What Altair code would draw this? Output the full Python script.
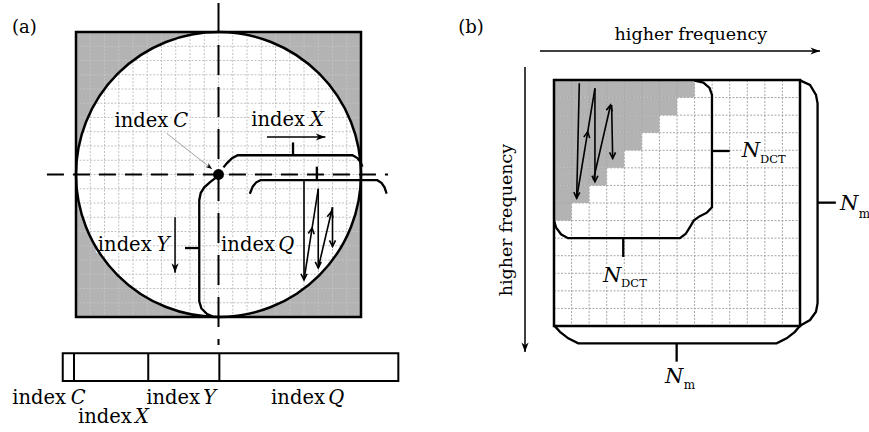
import math
import altair as alt
import pandas as pd

# ================= DATA =================
# Panel (a): coordinates in cells of the 20 x 20 sampling grid (origin = top-left of square, y downwards)
A_N = 20
A_CENTER = [10.0, 10.0]
A_DASH_H = [[-2.04, 10.0], [21.9, 10.0]]
A_DASH_V = [[10.0, -2.04], [10.0, 21.96]]
A_BRACKET_X = [[10.35, 9.5], [10.6, 9.2], [10.95, 8.85], [11.35, 8.65], [19.4, 8.65],
               [19.75, 8.85], [19.95, 9.1], [20.1, 9.45]]
A_BRACKET_Y = [[9.85, 10.2], [9.45, 10.5], [9.0, 10.9], [8.75, 11.3], [8.65, 11.8],
               [8.65, 18.9], [8.8, 19.4], [9.2, 19.8], [9.6, 19.97]]
A_BRACKET_Q = [[12.2, 11.35], [12.4, 10.85], [12.65, 10.55], [12.95, 10.4], [21.15, 10.4],
               [21.45, 10.6], [21.65, 10.9], [21.8, 11.35]]
A_TICKS = [[15.23, 8.65, 15.23, 7.75], [7.65, 15.16, 8.65, 15.16], [16.9, 10.4, 16.9, 9.45]]
A_ARROWS = [[13.4, 7.37, 17.5, 7.37], [6.95, 13.0, 6.95, 16.9]]
# zig-zag scan: x1, y1, x2, y2, position of the head along the segment
A_ZIGZAG = [[16.0, 10.4, 16.0, 17.4, 1.0], [16.0, 17.4, 17.0, 11.0, 0.57],
            [17.0, 11.0, 17.0, 16.55, 1.0], [17.0, 16.55, 18.0, 12.3, 0.93],
            [18.0, 12.3, 18.0, 15.05, 1.0]]
A_LEADER = [6.36, 7.11, 9.55, 9.62]
A_BAR = [-0.93, 22.55, 22.62, 24.49]
A_BAR_DIVIDERS = [-0.14, 5.07, 10.06]
# label: italic letter, right edge of "index", left edge of letter, baseline
A_LABELS = [["C", 6.48, 6.83, 6.65], ["X", 16.07, 16.42, 6.6], ["Y", 5.31, 5.66, 15.35],
            ["Q", 13.96, 14.2, 15.35]]
A_BAR_LABELS = [["C", -0.70, -0.37, 26.1], ["X", 3.91, 4.14, 27.45], ["Y", 8.70, 8.93, 26.1],
                ["Q", 17.47, 17.71, 26.1]]
A_TAG = ["(a)", -4.49, 0.09]

# Panel (b): coordinates in cells of the 14 x 14 coefficient grid
B_N = 14
B_STAIR = [8, 7, 6, 5, 4, 3, 2, 1]   # gray cells per row
B_INNER = [[0.0, 8.0], [0.12, 8.4], [0.4, 8.78], [0.8, 9.0], [7.17, 9.0], [7.5, 8.75],
           [7.75, 8.35], [7.95, 8.0], [8.3, 7.75], [8.7, 7.55], [8.99, 7.25], [8.99, 0.85],
           [8.85, 0.45], [8.5, 0.15], [8.0, 0.03]]
B_OUTER_R = [[14.0, 0.02], [14.57, 0.28], [14.91, 0.85], [15.0, 1.33], [15.0, 12.7],
             [14.91, 13.19], [14.57, 13.66], [14.0, 13.98]]
B_OUTER_B = [[0.02, 13.98], [0.34, 14.33], [0.81, 14.7], [1.38, 14.99], [12.67, 14.99],
             [13.24, 14.7], [13.71, 14.33], [14.0, 13.98]]
B_TICKS = [[3.94, 9.0, 3.94, 10.07], [8.99, 4.04, 10.0, 4.04], [15.0, 6.98, 16.04, 6.98],
           [6.98, 15.0, 6.98, 16.03]]
B_ARROWS = [[-0.8, -1.65, 15.14, -1.65], [-1.65, -0.74, -1.65, 15.48]]
B_ZIGZAG = [[1.44, 0.19, 1.29, 6.73, 1.0], [1.29, 6.73, 2.33, 0.47, 0.605],
            [2.33, 0.47, 2.33, 5.79, 1.0], [2.24, 5.69, 3.22, 1.42, 1.0],
            [3.28, 1.42, 3.34, 4.46, 1.0]]
# N labels: left of N, baseline of N, subscript, left of subscript, baseline of subscript
B_NDCT_LABELS = [[2.79, 11.48, "DCT", 3.82, 11.78], [10.68, 4.37, "DCT", 11.72, 4.74]]
B_NM_LABELS = [[16.28, 7.4, "m", 17.35, 7.85], [6.32, 17.26, "m", 7.38, 17.58]]
B_TAG = ["(b)", -5.45, -2.66]
B_AXIS_TEXT = "higher frequency"
B_TOP_TEXT = [7.79, -2.28]
B_LEFT_TEXT = [-2.39, 7.97]

# ================= STYLE / SCALES =================
FONT = "DejaVu Serif"
GRAY = "#b3b3b3"
A_PX = [76, 361, 32, 317]
B_PX = [554, 800, 80, 326]


def sc(dom, rng):
    return alt.Scale(domain=dom, range=rng, zero=False, nice=False)


AX, AY = sc([0, A_N], A_PX[:2]), sc([0, A_N], A_PX[2:])
BX, BY = sc([0, B_N], B_PX[:2]), sc([0, B_N], B_PX[2:])

FILLED_HEAD = "M0,0L-2.4,-0.9L-1.7,0L-2.4,0.9Z"
OPEN_HEAD = "M-2,-1L0,0L-2,1"


def xy(sx, sy, xf="x", yf="y"):
    return dict(x=alt.X(f"{xf}:Q", scale=sx, axis=None), y=alt.Y(f"{yf}:Q", scale=sy, axis=None))


def polylines(paths, sx, sy, **mk):
    rows = []
    for i, pts in enumerate(paths):
        for j, (x, y) in enumerate(pts):
            rows.append(dict(id=i, o=j, x=x, y=y))
    mk.setdefault("color", "black")
    return alt.Chart(pd.DataFrame(rows)).mark_line(**mk).encode(
        **xy(sx, sy), detail="id:N", order="o:Q")


def segments(segs, sx, sy, **mk):
    df = pd.DataFrame([s[:4] for s in segs], columns=["x", "y", "x2", "y2"])
    mk.setdefault("color", "black")
    return alt.Chart(df).mark_rule(**mk).encode(**xy(sx, sy), x2="x2:Q", y2="y2:Q")


def heads(segs, sx, sy, shape, size, filled, sw=1.4):
    rows = []
    for s in segs:
        x1, y1, x2, y2 = s[:4]
        t = s[4] if len(s) > 4 else 1.0
        rows.append(dict(x=x1 + (x2 - x1) * t, y=y1 + (y2 - y1) * t,
                         a=math.degrees(math.atan2(y2 - y1, x2 - x1)) % 360))
    mk = dict(shape=shape, size=size, filled=filled, color="black", opacity=1)
    if not filled:
        mk.update(strokeWidth=sw, strokeJoin="miter")
    return alt.Chart(pd.DataFrame(rows)).mark_point(**mk).encode(
        **xy(sx, sy), angle=alt.Angle("a:Q", scale=None))


def text(rows, sx, sy, halo=False, **mk):
    df = pd.DataFrame(rows, columns=["t", "x", "y"])
    base = dict(font=FONT, color="black", baseline="alphabetic")
    base.update(mk)
    if halo:
        base.update(stroke="white", strokeWidth=5, strokeJoin="round", color="white")
    return alt.Chart(df).mark_text(**base).encode(**xy(sx, sy), text="t:N")


def rects(rows, sx, sy, **mk):
    df = pd.DataFrame(rows, columns=["x", "y", "x2", "y2"])
    return alt.Chart(df).mark_rect(**mk).encode(**xy(sx, sy), x2="x2:Q", y2="y2:Q")


def grid(n, sx, sy, **mk):
    segs = [[k, 0, k, n] for k in range(1, n)] + [[0, k, n, k] for k in range(1, n)]
    return segments(segs, sx, sy, **mk)


# ================= PANEL (a) =================
a_diam_px = A_PX[1] - A_PX[0]
circle_df = pd.DataFrame([dict(x=A_CENTER[0], y=A_CENTER[1])])
A_FS = 19.5
a_word = [["index", l[1], l[3]] for l in A_LABELS]
a_letter = [[l[0], l[2], l[3]] for l in A_LABELS]
a_layers = [
    rects([[0, 0, A_N, A_N]], AX, AY, color=GRAY),
    alt.Chart(circle_df).mark_point(shape="circle", size=a_diam_px ** 2, filled=True,
                                    color="white", opacity=1).encode(**xy(AX, AY)),
    grid(A_N, AX, AY, color="#c2c2c2", strokeWidth=1, strokeDash=[2, 1.5]),
    # white halos below the labels, under all the line work
    text(a_word, AX, AY, halo=True, fontSize=A_FS, align="right"),
    text(a_letter, AX, AY, halo=True, fontSize=A_FS, align="left", fontStyle="italic"),
    alt.Chart(circle_df).mark_point(shape="circle", size=a_diam_px ** 2, filled=False,
                                    color="black", strokeWidth=2.5, opacity=1).encode(**xy(AX, AY)),
    rects([[0, 0, A_N, A_N]], AX, AY, fillOpacity=0, stroke="black", strokeWidth=2.5),
    segments([A_DASH_H[0] + A_DASH_H[1]], AX, AY, strokeWidth=2, strokeDash=[17, 9]),
    segments([A_DASH_V[0] + A_DASH_V[1]], AX, AY, strokeWidth=2, strokeDash=[30, 12]),
    polylines([A_BRACKET_X, A_BRACKET_Y, A_BRACKET_Q], AX, AY, strokeWidth=2.3),
    segments(A_TICKS, AX, AY, strokeWidth=2.3),
    segments(A_ARROWS, AX, AY, strokeWidth=1.5),
    heads(A_ARROWS, AX, AY, FILLED_HEAD, 64, True),
    segments(A_ZIGZAG, AX, AY, strokeWidth=1.6),
    heads(A_ZIGZAG, AX, AY, OPEN_HEAD, 36, False, sw=1.6),
    segments([A_LEADER], AX, AY, strokeWidth=0.8, color="#8a8a8a"),
    heads([A_LEADER], AX, AY, FILLED_HEAD, 30, True),
    alt.Chart(circle_df).mark_point(shape="circle", size=120, filled=True, color="black",
                                    opacity=1).encode(**xy(AX, AY)),
    rects([A_BAR], AX, AY, fill="white", stroke="black", strokeWidth=2),
    segments([[d, A_BAR[1], d, A_BAR[3]] for d in A_BAR_DIVIDERS], AX, AY, strokeWidth=2),
    text(a_word, AX, AY, fontSize=A_FS, align="right"),
    text(a_letter, AX, AY, fontSize=A_FS, align="left", fontStyle="italic"),
    text([["index", l[1], l[3]] for l in A_BAR_LABELS], AX, AY, fontSize=A_FS, align="right"),
    text([[l[0], l[2], l[3]] for l in A_BAR_LABELS], AX, AY, fontSize=A_FS, align="left",
         fontStyle="italic"),
    text([A_TAG], AX, AY, fontSize=18, align="left"),
]

# ================= PANEL (b) =================
b_n = [["N", l[0], l[1]] for l in B_NDCT_LABELS]
b_sub = [[l[2], l[3], l[4]] for l in B_NDCT_LABELS]
b_layers = [
    rects([[0, 0, B_N, B_N]], BX, BY, color="white"),
    rects([[0, r, w, r + 1] for r, w in enumerate(B_STAIR)], BX, BY, color=GRAY),
    grid(B_N, BX, BY, color="#a6a6a6", strokeWidth=1, strokeDash=[2, 1.5]),
    text(b_n, BX, BY, halo=True, fontSize=21, align="left", fontStyle="italic"),
    text(b_sub, BX, BY, halo=True, fontSize=11.5, align="left"),
    rects([[0, 0, B_N, B_N]], BX, BY, fillOpacity=0, stroke="black", strokeWidth=2.5),
    polylines([B_INNER, B_OUTER_R, B_OUTER_B], BX, BY, strokeWidth=2.3),
    segments(B_TICKS, BX, BY, strokeWidth=2.3),
    segments(B_ARROWS, BX, BY, strokeWidth=1.5),
    heads(B_ARROWS, BX, BY, FILLED_HEAD, 64, True),
    segments(B_ZIGZAG, BX, BY, strokeWidth=1.6),
    heads(B_ZIGZAG, BX, BY, OPEN_HEAD, 36, False, sw=1.6),
    text(b_n, BX, BY, fontSize=21, align="left", fontStyle="italic"),
    text(b_sub, BX, BY, fontSize=11.5, align="left"),
    text([["N", l[0], l[1]] for l in B_NM_LABELS], BX, BY, fontSize=21, align="left",
         fontStyle="italic"),
    text([[l[2], l[3], l[4]] for l in B_NM_LABELS], BX, BY, fontSize=12, align="left"),
    text([B_TAG], BX, BY, fontSize=18, align="left"),
    text([[B_AXIS_TEXT] + B_TOP_TEXT], BX, BY, fontSize=17.5, align="center"),
    text([[B_AXIS_TEXT] + B_LEFT_TEXT], BX, BY, fontSize=17.5, align="center", angle=270),
]

panel_a = alt.layer(*a_layers)
panel_b = alt.layer(*b_layers)

chart = (
    alt.layer(panel_a, panel_b)
    .resolve_scale(x="independent", y="independent")
    .properties(width=869, height=432, padding=0, background="white",
                autosize=alt.AutoSizeParams(type="none"))
    .configure_view(stroke=None)
)

chart.save("out.html", embed_options={"renderer": "svg", "actions": False})
